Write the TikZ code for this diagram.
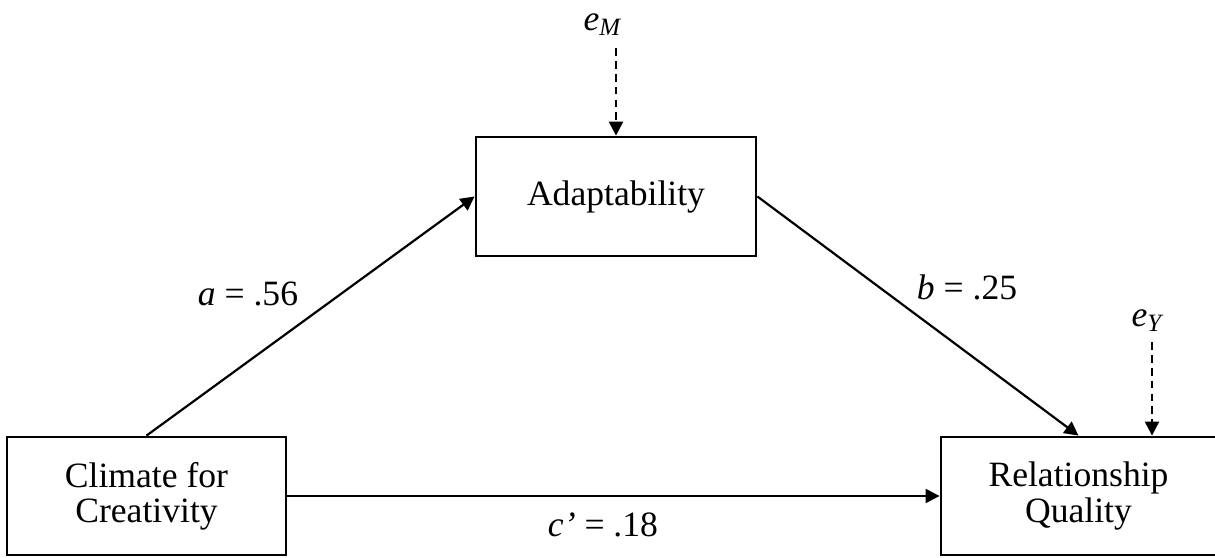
\documentclass[tikz,border=0pt]{standalone}
\usepackage{fontspec}
\setmainfont{Liberation Serif}
\usetikzlibrary{arrows.meta}
\begin{document}
\begin{tikzpicture}[x=0.5pt,y=-0.5pt,
  box/.style={draw,line width=1.4pt,align=center,inner sep=0pt,
    font=\fontsize{17.8}{17.6}\selectfont},
  lbl/.style={inner sep=0pt,font=\fontsize{17.8}{20}\selectfont},
  path/.style={line width=1.1pt,-{Triangle[length=7pt,width=7pt]}},
  errpath/.style={path,line width=1.2pt,dash pattern=on 3.8pt off 2.6pt}]
\useasboundingbox (0,0) rectangle (1215,557);
\node[box,minimum width=140pt,minimum height=59.5pt] (A) at (616,196.5) {Adaptability};
\node[box,minimum width=139.5pt,minimum height=59pt] (C) at (146.5,496) {Climate for\\Creativity};
\node[box,minimum width=137.5pt,minimum height=59pt] (R) at (1078.5,496) {Relationship\\Quality};
\node[lbl] (eM) at (603,25) {\textit{e}\textsubscript{\textit{M}}};
\node[lbl] (eY) at (1148,321) {\textit{e}\textsubscript{\textit{Y}}};
\coordinate (RT) at ([xshift=36.75pt]R.north);
\draw[path] (C.north) -- (A.west);
\draw[path] (A.east) -- (R.north);
\draw[path] (C.east) -- (R.west);
\draw[errpath] ([yshift=-6pt]eM.south -| A.north) -- (A.north);
\draw[errpath] ([yshift=-5pt]eY.south -| RT) -- (RT);
\node[lbl] (la) at (248,294) {\textit{a} = .56};
\node[lbl] (lb) at (967,287) {\textit{b} = .25};
\node[lbl] (lc) at (603,525) {\textit{c’} = .18};
\end{tikzpicture}
\end{document}
